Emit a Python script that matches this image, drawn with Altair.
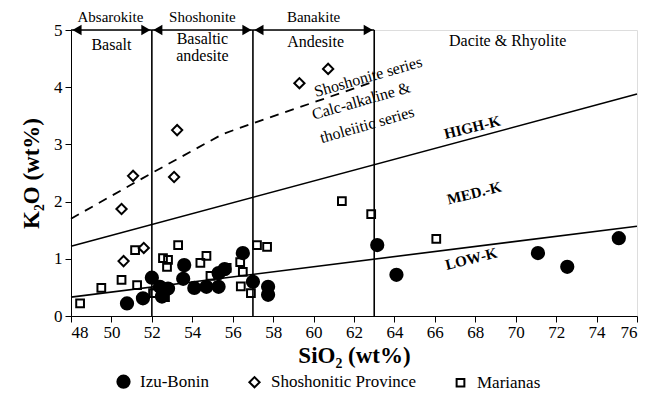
import altair as alt
import pandas as pd

# ---- data ----
izu_x = [50.77, 51.56, 52.0, 52.4, 52.5, 52.8, 53.6, 53.55, 54.1, 54.7, 55.3, 55.3, 55.6, 56.5, 57.0,
         57.75, 57.75, 63.15, 64.1, 71.1, 72.55, 75.1]
izu_y = [0.22, 0.31, 0.67, 0.51, 0.34, 0.48, 0.89, 0.65, 0.49, 0.51, 0.51, 0.75, 0.82, 1.10, 0.60,
         0.51, 0.37, 1.24, 0.72, 1.10, 0.86, 1.36]

sho_x = [60.72, 59.3, 53.25, 51.07, 53.1, 50.5, 51.6, 50.6]
sho_y = [4.32, 4.07, 3.25, 2.45, 2.43, 1.87, 1.19, 0.96]

mar_x = [48.45, 49.5, 50.5, 51.17, 51.27, 52.06, 52.55, 52.8, 52.75, 52.16, 52.65, 53.3, 54.4, 54.7,
         54.9, 55.7, 56.37, 56.5, 56.4, 56.9, 57.2, 57.7, 61.4, 62.85, 66.07]
mar_y = [0.22, 0.49, 0.63, 1.15, 0.54, 0.40, 1.01, 0.98, 0.86, 0.40, 0.33, 1.24, 0.93, 1.05,
         0.70, 0.84, 0.94, 0.77, 0.52, 0.40, 1.24, 1.21, 2.01, 1.78, 1.35]

series_names = ["Izu-Bonin", "Shoshonitic Province", "Marianas"]

# boundary lines
highk_x = [48, 76]
highk_y = [1.22, 3.88]
lowk_x = [48, 76]
lowk_y = [0.33, 1.57]
shosh_x = [48, 52, 55.5, 57, 63]
shosh_y = [1.70, 2.50, 3.18, 3.37, 4.10]
field_bounds = [52, 57, 63]
arrow_starts = [48, 52, 57]
arrow_ends = [52, 57, 63]

# text labels
top_labels = ["Absarokite", "Shoshonite", "Banakite"]
top_x = [49.95, 54.5, 60.0]
top_y = [5.23, 5.23, 5.23]
field_labels = ["Basalt", "Basaltic", "andesite", "Andesite", "Dacite & Rhyolite"]
field_x = [50.0, 54.5, 54.5, 60.1, 69.6]
field_y = [4.74, 4.84, 4.55, 4.79, 4.81]
series_labels = ["Shoshonite series", "Calc-alkaline &", "tholeiitic series"]
series_lx = [62.7, 62.36, 62.65]
series_ly = [4.18, 3.76, 3.34]
k_labels = ["HIGH-K", "MED.-K", "LOW-K"]
k_x = [67.85, 67.95, 67.8]
k_y = [3.30, 2.15, 1.00]

FONT = "Liberation Serif"

pts = pd.DataFrame(
    {"x": izu_x + sho_x + mar_x,
     "y": izu_y + sho_y + mar_y,
     "s": [series_names[0]] * len(izu_x) + [series_names[1]] * len(sho_x) + [series_names[2]] * len(mar_x)}
)

xs = alt.Scale(domain=[48, 76], nice=False, zero=False)
ys = alt.Scale(domain=[0, 5], nice=False)

X = alt.X("x:Q", scale=xs, axis=alt.Axis(values=list(range(48, 77, 2)), title="SiO₂ (wt%)", format="d",
                                         grid=False, tickSize=6, labelFontSize=17, labelFont=FONT,
                                         titleFont=FONT, titleFontSize=23, titleFontWeight="bold",
                                         titlePadding=4, labelPadding=2, domainColor="black",
                                         tickColor="black", labelColor="black", titleColor="black"))
Y = alt.Y("y:Q", scale=ys, axis=alt.Axis(values=[0, 1, 2, 3, 4, 5], title="K₂O (wt%)", format="d",
                                         grid=False, tickSize=6, labelFontSize=17, labelFont=FONT,
                                         titleFont=FONT, titleFontSize=23, titleFontWeight="bold",
                                         titlePadding=10, labelPadding=3, domainColor="black",
                                         tickColor="black", labelColor="black", titleColor="black"))
Xn = alt.X("x:Q", scale=xs)
Yn = alt.Y("y:Q", scale=ys)

leg = alt.Legend(orient="none", legendX=44, legendY=343, direction="horizontal",
                 title=None, labelFont=FONT, labelFontSize=17, labelColor="black",
                 symbolStrokeWidth=2, columnPadding=36, labelOffset=8)

base_pts = alt.Chart(pts).mark_point(strokeWidth=2, opacity=1, fillOpacity=1, strokeOpacity=1).encode(
    x=X, y=Y,
    shape=alt.Shape("s:N", scale=alt.Scale(domain=series_names, range=["circle", "diamond", "square"]),
                    legend=leg),
    fill=alt.Fill("s:N", scale=alt.Scale(domain=series_names, range=["black", "transparent", "transparent"]),
                  legend=leg),
    stroke=alt.Stroke("s:N", scale=alt.Scale(domain=series_names, range=["black", "black", "black"]),
                      legend=leg),
    size=alt.Size("s:N", scale=alt.Scale(domain=series_names, range=[150, 60, 155]), legend=leg),
)

def line_df(xv, yv):
    return pd.DataFrame({"x": xv, "y": yv, "o": list(range(len(xv)))})

highk = alt.Chart(line_df(highk_x, highk_y)).mark_line(color="black", strokeWidth=1.6).encode(x=Xn, y=Yn, order="o:Q")
lowk = alt.Chart(line_df(lowk_x, lowk_y)).mark_line(color="black", strokeWidth=1.6).encode(x=Xn, y=Yn, order="o:Q")
shosh = alt.Chart(line_df(shosh_x, shosh_y)).mark_line(color="black", strokeWidth=1.8, strokeDash=[9, 7]).encode(
    x=Xn, y=Yn, order="o:Q")

vlines = alt.Chart(pd.DataFrame({"x": field_bounds})).mark_rule(color="black", strokeWidth=1.6).encode(
    x=Xn, y=alt.value(0), y2=alt.value(286))

arr = pd.DataFrame({"x1": arrow_starts, "x2": arrow_ends, "y": [5] * len(arrow_starts)})
arrow_line = alt.Chart(arr).mark_rule(color="black", strokeWidth=1.6).encode(
    x=alt.X("x1:Q", scale=xs), x2="x2:Q", y=alt.Y("y:Q", scale=ys))
head_l = alt.Chart(arr).mark_point(shape="triangle-left", filled=True, color="black", size=110, opacity=1,
                                   xOffset=6).encode(x=alt.X("x1:Q", scale=xs), y=alt.Y("y:Q", scale=ys))
head_r = alt.Chart(arr).mark_point(shape="triangle-right", filled=True, color="black", size=110, opacity=1,
                                   xOffset=-6).encode(x=alt.X("x2:Q", scale=xs), y=alt.Y("y:Q", scale=ys))

def text_layer(lbls, xv, yv, angle=0, bold=False, size=16):
    df = pd.DataFrame({"x": xv, "y": yv, "t": lbls})
    return alt.Chart(df).mark_text(font=FONT, fontSize=size, color="black", angle=angle,
                                   fontWeight="bold" if bold else "normal").encode(x=Xn, y=Yn, text="t:N")

t_top = text_layer(top_labels, top_x, top_y, size=15)
t_field = text_layer(field_labels, field_x, field_y)
t_series = text_layer(series_labels, series_lx, series_ly, angle=344)
t_k = text_layer(k_labels, k_x, k_y, angle=346, bold=True, size=15)

chart = alt.layer(
    vlines, highk, lowk, shosh, arrow_line, head_l, head_r,
    t_top, t_field, t_series, t_k, base_pts
).properties(
    width=566, height=286,
    padding={"left": 63, "top": 22, "right": 11, "bottom": 80},
    autosize=alt.AutoSizeParams(type="none"),
).configure_view(stroke="black", strokeWidth=1.6).configure(
    background="white", font=FONT,
    style={"guide-label": {"font": FONT}}
).configure_legend(labelFont=FONT, labelFontSize=17, labelColor="black")

chart.save("out.html", embed_options={"renderer": "svg", "actions": False})
